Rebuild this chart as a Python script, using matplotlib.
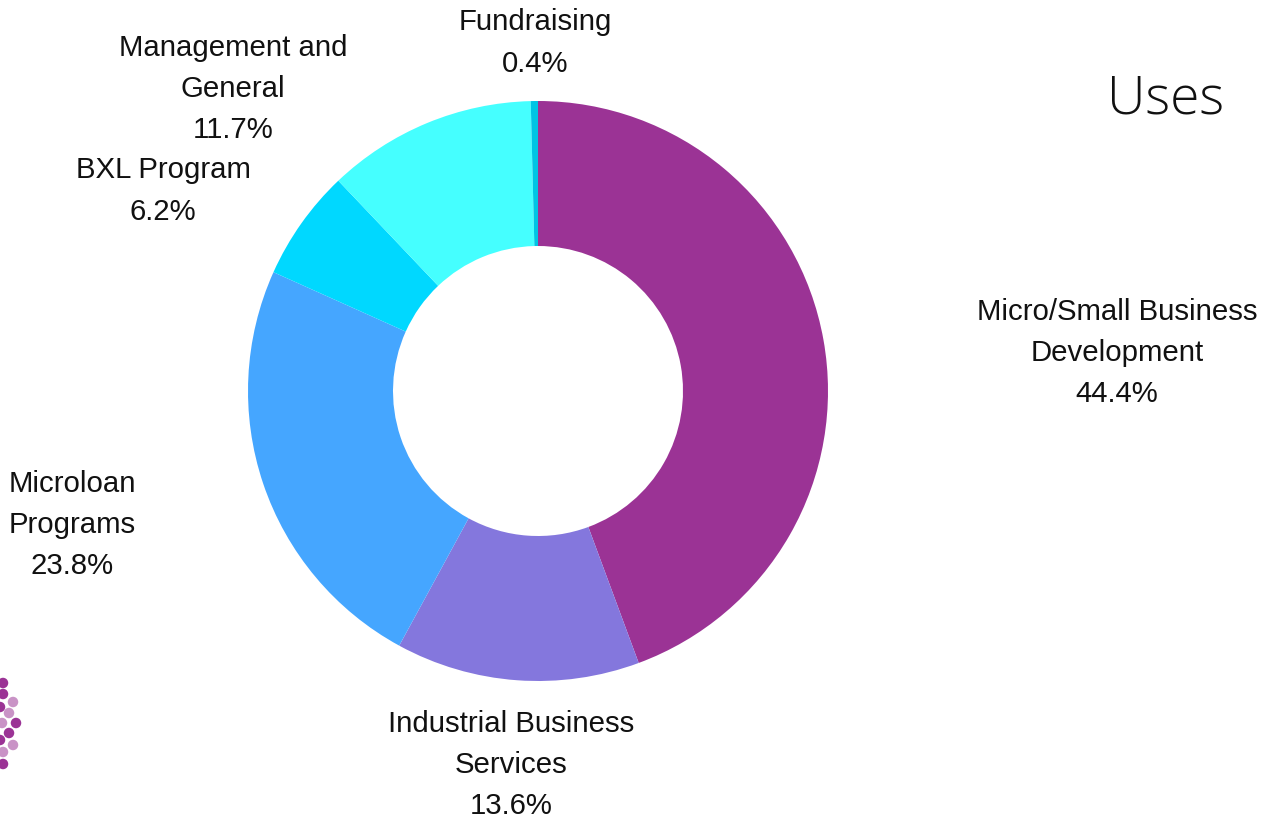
import matplotlib
matplotlib.use("Agg")
import matplotlib.pyplot as plt
from matplotlib.patches import Ellipse

# Budget uses (percent of total)
categories = ["Micro/Small Business\nDevelopment", "Industrial Business\nServices",
              "Microloan\nPrograms", "BXL Program", "Management and\nGeneral", "Fundraising"]
shares = [44.4, 13.6, 23.8, 6.2, 11.7, 0.4]
colors = ["#9B3395", "#8477DD", "#45A6FF", "#00D8FF", "#45FFFF", "#00C4E4"]

# label anchor points (pixel centres, measured from top-left)
label_pos = [(1117, 353), (511, 765), (72, 525), (163, 191), (233, 89), (535, 43)]

W, H = 1267, 825
fig = plt.figure(figsize=(W / 100, H / 100), dpi=100)
fig.patch.set_facecolor("white")

cx, cy, r = 538, 391, 290
ax = fig.add_axes([(cx - r) / W, (H - cy - r) / H, 2 * r / W, 2 * r / H])
ax.pie(shares, colors=colors, startangle=90, counterclock=False, radius=1.0,
       wedgeprops=dict(width=0.5, edgecolor="none", linewidth=0))
ax.set_xlim(-1, 1)
ax.set_ylim(-1, 1)
ax.set_aspect("equal")
ax.axis("off")

label_font = "Liberation Sans"
for name, val, (px, py) in zip(categories, shares, label_pos):
    fig.text(px / W, 1 - py / H, f"{name}\n{val:.1f}%", ha="center", va="center",
             fontsize=21.2, family=label_font, color="#111111", linespacing=1.6)

fig.text(1166 / W, 1 - 100 / H, "Uses", ha="center", va="center",
         fontsize=38.3, family="Open Sans", fontweight="light", color="#111111")

# partial logo at the lower-left edge
dark, light = "#9B3395", "#C993C6"
logo_dots = [(3, 683, dark), (3, 694, dark), (13, 702, light), (0, 707, dark),
             (9, 713, light), (2, 723, light), (16, 723, dark), (9, 733, dark),
             (0, 740, dark), (13, 745, light), (3, 752, light), (3, 764, dark)]
d = 10.5
for x, y, c in logo_dots:
    fig.patches.append(Ellipse((x / W, 1 - y / H), d / W, d / H, transform=fig.transFigure,
                               facecolor=c, edgecolor="none"))

fig.savefig("out.png", dpi=100, facecolor="white")
